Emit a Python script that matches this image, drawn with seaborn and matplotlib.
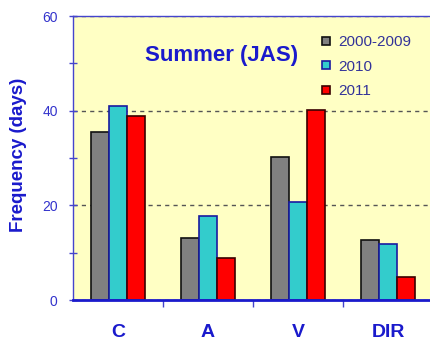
import pandas as pd
import matplotlib.pyplot as plt
import seaborn as sns
from matplotlib.lines import Line2D

# Values
categories = ["C", "A", "V", "DIR"]
periods = ["2000-2009", "2010", "2011"]
freq_2000_2009 = [35.4, 13.2, 30.2, 12.6]
freq_2010 = [40.9, 17.8, 20.6, 11.8]
freq_2011 = [38.8, 8.9, 40.1, 4.9]

df = pd.DataFrame({
    "category": categories * 3,
    "period": [p for p in periods for _ in categories],
    "days": freq_2000_2009 + freq_2010 + freq_2011,
})

colors = ["#808080", "#33CCCC", "#FF0000"]
edges = ["#111111", "#1a1aa0", "#3a0000"]
blue = "#1a1acc"

sns.set_style("white")
plt.rcParams["font.family"] = ["Liberation Sans", "DejaVu Sans"]

fig = plt.figure(figsize=(4.3, 3.42), dpi=100)
ax = fig.add_axes([73 / 430, 1 - 300 / 342, 357 / 430, 284 / 342])
ax.set_facecolor("#FFFFC4")

sns.barplot(
    data=df, x="category", y="days", hue="period",
    order=categories, hue_order=periods, palette=colors, saturation=1,
    width=0.61, ax=ax, legend=False, linewidth=1.2,
)
for cont, ec in zip(ax.containers, edges):
    for bar in cont:
        bar.set_edgecolor(ec)

ax.set_xlim(-0.5, -0.5 + 357 / 90)
ax.set_ylim(0, 60)
ax.set_yticks([0, 20, 40, 60])
ax.set_yticks([10, 30, 50], minor=True)
ax.set_xticks([0.5, 1.5, 2.5], minor=True)

ax.grid(axis="y", which="major", linestyle=(0, (3, 3)), color="#555555", linewidth=1)
ax.set_axisbelow(True)

for side in ["left", "top"]:
    ax.spines[side].set_color("#4444cc")
    ax.spines[side].set_linewidth(1)
ax.spines["bottom"].set_color("#1a1acc")
ax.spines["bottom"].set_linewidth(2)
ax.spines["right"].set_visible(False)

ax.tick_params(axis="y", which="both", direction="inout", length=6, width=1,
               color="#4444cc", left=True, labelsize=10, labelcolor="#3333cc", pad=8)
ax.tick_params(axis="x", which="major", length=0, pad=17)
ax.tick_params(axis="x", which="minor", direction="out", length=5, width=1,
               color="#4444cc", bottom=True)
for lab in ax.get_xticklabels():
    lab.set_fontsize(14)
    lab.set_fontweight("bold")
    lab.set_color(blue)

ax.set_xlabel("")
ax.set_ylabel("Frequency (days)", fontsize=13.5, fontweight="bold", color=blue)
ax.yaxis.set_label_coords(-0.13, 0.51)

ax.text(0.417, 0.862, "Summer (JAS)", transform=ax.transAxes, ha="center",
        va="center", fontsize=16, fontweight="bold", color=blue)

handles = [
    Line2D([], [], marker="s", linestyle="", markersize=6,
           markerfacecolor=c, markeredgecolor=e, markeredgewidth=1.2)
    for c, e in zip(colors, edges)
]
ax.legend(handles, periods, loc="upper left", bbox_to_anchor=(0.675, 0.955),
          frameon=False, fontsize=11, labelcolor="#333399",
          handlelength=0.8, handletextpad=0.4, labelspacing=0.7, borderaxespad=0)

fig.savefig("out.png", dpi=100)
